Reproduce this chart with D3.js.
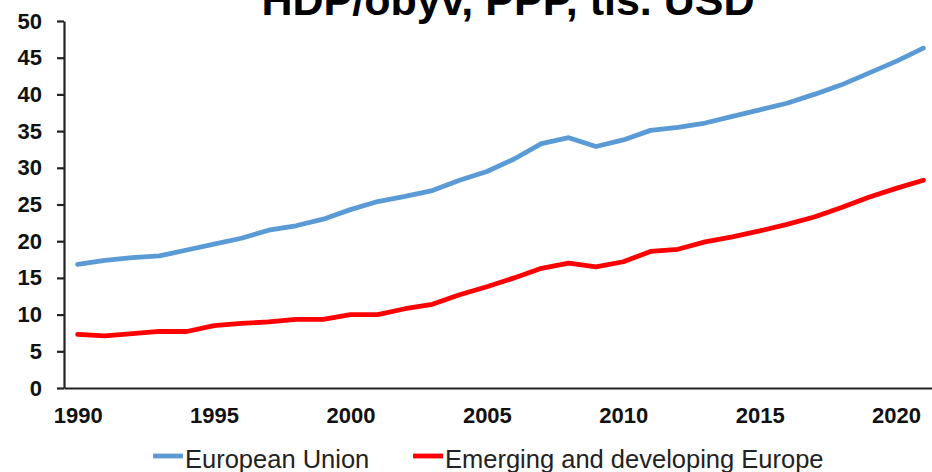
<!DOCTYPE html>
<html>
<head>
<meta charset="utf-8">
<title>HDP/obyv, PPP</title>
<style>
  body { margin: 0; background: #fff; }
  svg { display: block; font-family: "Liberation Sans", Arial, sans-serif; }
  .axis path, .axis line { stroke: #222; stroke-width: 2.2; }
  .axis text { fill: #111; font-weight: bold; font-size: 22px; font-family: "Liberation Sans", Arial, sans-serif; }
  .title { font-weight: bold; font-size: 43px; fill: #000; text-anchor: middle; }
  .legend text { font-size: 25.5px; fill: #222; }
</style>
</head>
<body>
<svg width="932" height="472"></svg>
<script src="https://d3js.org/d3.v7.min.js"></script>
<script>
// data
var years = d3.range(1990, 2022);
var euValues = [16.85, 17.4, 17.75, 18.0, 18.8, 19.6, 20.4, 21.5, 22.1, 23.0, 24.3, 25.4, 26.1, 26.9, 28.3,
                29.5, 31.2, 33.3, 34.1, 32.9, 33.8, 35.1, 35.5, 36.1, 37.0, 37.9, 38.8, 40.0, 41.3, 42.9, 44.5, 46.3];
var edeValues = [7.3, 7.1, 7.4, 7.7, 7.7, 8.5, 8.8, 9.0, 9.35, 9.35, 10.0, 10.0, 10.8, 11.4, 12.7,
                 13.8, 15.0, 16.3, 17.0, 16.5, 17.2, 18.6, 18.9, 19.9, 20.6, 21.4, 22.3, 23.3, 24.6, 26.0, 27.2, 28.3];
var yTicks = [0, 5, 10, 15, 20, 25, 30, 35, 40, 45, 50];
var xTicks = [1990, 1995, 2000, 2005, 2010, 2015, 2020];
var seriesNames = ["European Union", "Emerging and developing Europe"];
var colors = ["#5b9bd5", "#ff0000"];

var svg = d3.select("svg");

var x = d3.scalePoint()
    .domain(years)
    .range([64, 937])
    .padding(0.5);

var y = d3.scaleLinear()
    .domain([0, 50])
    .range([388, 21]);

// title (cut off at the top like the original)
svg.append("text")
    .attr("class", "title")
    .attr("x", 508)
    .attr("y", 15)
    .text("HDP/obyv, PPP, tis. USD");

// axes
svg.append("g")
    .attr("class", "axis")
    .attr("transform", "translate(0,388)")
    .call(d3.axisBottom(x).tickValues(xTicks).tickSize(0).tickSizeOuter(0).tickPadding(19));

svg.append("g")
    .attr("class", "axis")
    .attr("transform", "translate(64,0)")
    .call(d3.axisLeft(y).tickValues(yTicks).tickSize(7).tickSizeOuter(0).tickPadding(15));

// lines
var line = d3.line()
    .x(function (d, i) { return x(years[i]); })
    .y(function (d) { return y(d); });

[euValues, edeValues].forEach(function (vals, k) {
  svg.append("path")
      .datum(vals)
      .attr("fill", "none")
      .attr("stroke", colors[k])
      .attr("stroke-width", 4.8)
      .attr("stroke-linejoin", "round")
      .attr("stroke-linecap", "round")
      .attr("d", line);
});

// legend
var legendX = [153, 413];
var legend = svg.append("g").attr("class", "legend");
seriesNames.forEach(function (name, k) {
  legend.append("line")
      .attr("x1", legendX[k]).attr("x2", legendX[k] + 30)
      .attr("y1", 456).attr("y2", 456)
      .attr("stroke", colors[k])
      .attr("stroke-width", 4.8);
  legend.append("text")
      .attr("x", legendX[k] + 32)
      .attr("y", 468)
      .text(name);
});
</script>
</body>
</html>
